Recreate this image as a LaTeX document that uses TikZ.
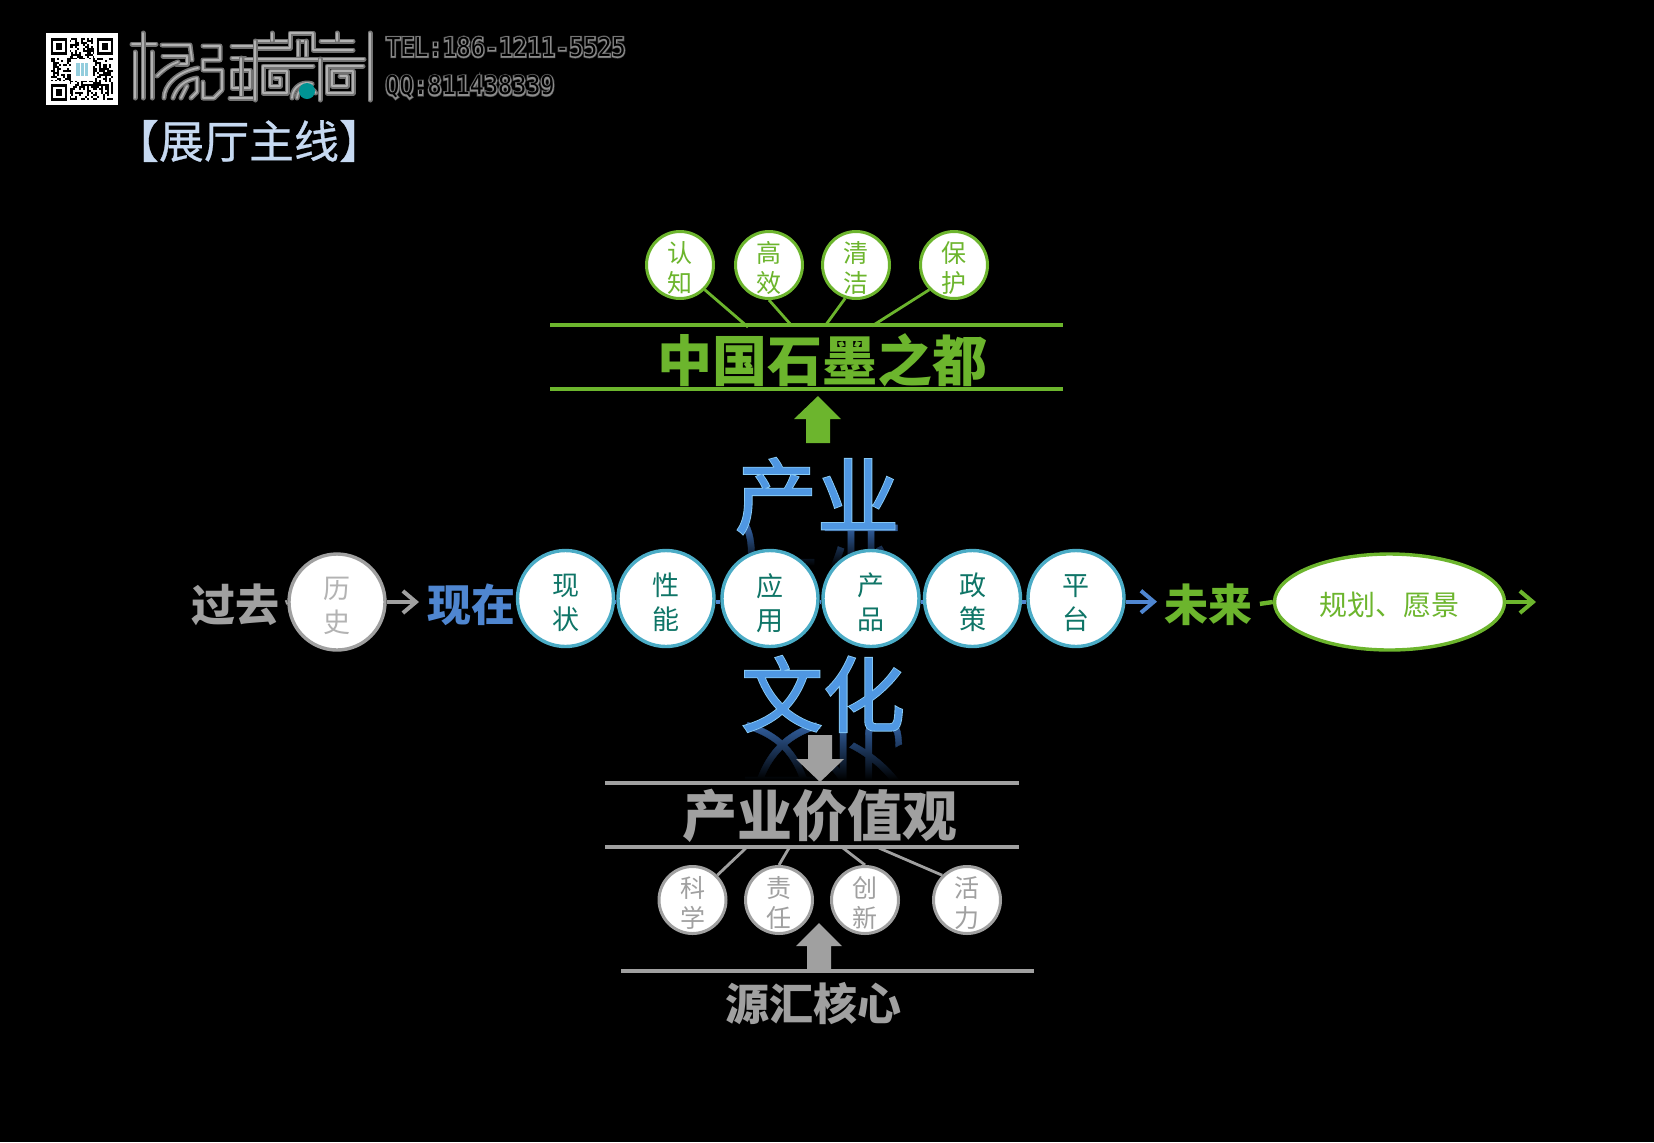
\documentclass[tikz,border=0pt]{standalone}
\usepackage{fontspec}
\setmainfont{Noto Sans CJK SC}
\newfontfamily\bevelcore[FakeBold=0.4]{Noto Sans CJK SC}
\newfontfamily\bevelrim[FakeBold=2.6]{Noto Sans CJK SC}
\newfontfamily\hallfont[FakeBold=0.6]{Noto Sans CJK SC}
\newfontfamily\telcore[FakeStretch=0.9]{DejaVu Sans Mono}
\newfontfamily\telglow[FakeStretch=0.9,FakeBold=8]{DejaVu Sans Mono}
\newfontfamily\telhalo[FakeStretch=0.9,FakeBold=13]{DejaVu Sans Mono}
\usetikzlibrary{arrows.meta,shapes.geometric,fadings}
\newcommand\duo[2]{\vbox{\kern\duokern\hbox{#1}\hbox{#2}}}
\definecolor{leaf}{HTML}{6CB52D}
\definecolor{ash}{HTML}{A0A0A0}
\definecolor{ring}{HTML}{4BACC6}
\definecolor{sky}{HTML}{4F86D0}
\definecolor{deepteal}{HTML}{0F7567}
\definecolor{glint}{HTML}{8ACDF8}
\definecolor{core}{HTML}{4F97E2}
\definecolor{shadowblue}{HTML}{2F5A96}
\definecolor{paleblue}{HTML}{C6D9F1}
\tikzset{
    rawtext/.style={inner sep=0pt,outer sep=0pt},
    wordgreen/.style={rawtext,text=leaf,font=\fontsize{27.5}{30}\selectfont\bfseries},
    wordgrey/.style={rawtext,text=ash,font=\fontsize{27.5}{30}\selectfont\bfseries},
    sidetext/.style={rawtext,font=\fontsize{22}{24}\selectfont\bfseries},
    bigbevel/.style={rawtext,text=core,font=\bevelcore\fontsize{41}{44}\selectfont},
    bigrim/.style={rawtext,text=glint,font=\bevelrim\fontsize{41}{44}\selectfont},
    bigecho/.style={rawtext,text=shadowblue,font=\bevelcore\fontsize{41}{44}\selectfont,yscale=-1,transform shape},
    midnode/.style={circle,draw=ring,fill=white,line width=1.7pt,minimum size=48pt,inner sep=0pt,text=deepteal,font=\fontsize{13.5}{17}\selectfont\def\duokern{4.2pt}},
    oldnode/.style={midnode,draw=ash,text=ash!80},
    greennode/.style={circle,draw=leaf,fill=white,line width=1.5pt,minimum size=33.5pt,inner sep=0pt,text=leaf,font=\fontsize{12.5}{15}\selectfont\def\duokern{2.8pt}},
    greynode/.style={greennode,draw=ash,text=ash},
    hairgreen/.style={draw=leaf,line width=1.4pt},
    hairgrey/.style={draw=ash,line width=1.4pt},
    rulegreen/.style={draw=leaf,line width=1.7pt},
    rulegrey/.style={draw=ash,line width=1.7pt},
    linkarrow/.style={line width=2.2pt,-{Straight Barb[length=6.5pt,width=11pt,line width=2pt]}},
    logostroke/.style={draw=black!55,double=black!30,line width=0.8pt,double distance=0.9pt,line join=round,line cap=round}
}
\begin{document}
\begin{tikzpicture}[x=0.5pt,y=-0.5pt]
        \fill[black] (0,0) rectangle (1654,1142);
        \useasboundingbox (0,0) rectangle (1654,1142);

        \fill[white] (46,33) rectangle (118,105);
        \pgfmathsetseed{11}
        \foreach \col in {0,...,30} {
            \foreach \row in {0,...,30} {
                \pgfmathrandominteger{\qrbit}{0}{1}
                \ifnum\qrbit=1
                    \fill[black] (50.5+\col*2,38+\row*2) rectangle ++(2,2);
                \fi
            }
        }
        \fill[white] (50,37.5) rectangle (70,57.5);
        \fill[white] (93.5,37.5) rectangle (113.5,57.5);
        \fill[white] (50,81) rectangle (70,101);
        \fill[black] (50.5,38) rectangle (67,54.5);
        \fill[white] (53,40.5) rectangle (64.5,52);
        \fill[black] (55.5,43) rectangle (62,49.5);
        \fill[black] (96.5,38) rectangle (113,54.5);
        \fill[white] (99,40.5) rectangle (110.5,52);
        \fill[black] (101.5,43) rectangle (108,49.5);
        \fill[black] (50.5,84) rectangle (67,100.5);
        \fill[white] (53,86.5) rectangle (64.5,98);
        \fill[black] (55.5,89) rectangle (62,95.5);
        \fill[white] (71,59) rectangle (93,81);
        \fill[ring!60] (76,63) rectangle (88,76);
        \draw[white,line width=0.4pt] (80,63) -- (80,76);
        \draw[white,line width=0.4pt] (84,63) -- (84,76);

        \draw[logostroke] (132,44) -- (156,44);
        \draw[logostroke] (143,33) -- (143,98);
        \draw[logostroke] (135,52) -- (135,98);
        \draw[logostroke] (152,52) -- (152,98);
        \draw[logostroke] (162,45) -- (190,45) -- (192,60);
        \draw[logostroke] (163,56) -- (187,56) -- (187,64) -- (176,64);
        \draw[logostroke] (157,76) .. controls (165,68) and (172,64) .. (178,62);
        \draw[logostroke] (164,98) .. controls (164,86) and (176,72) .. (198,68);
        \draw[logostroke] (173,98) .. controls (176,88) and (184,80) .. (197,78) -- (197,92) -- (191,98);
        \draw[logostroke] (181,98) -- (187,86);
        \draw[logostroke] (203,46) -- (220,46) -- (220,60) -- (203,60) -- (203,70) -- (222,70) -- (222,90) -- (214,98) -- (203,98) -- (203,82);
        \draw[logostroke] (232,46) -- (255,46);
        \draw[logostroke] (232,58) -- (245,58);
        \draw[logostroke] (232,70) -- (250,70) -- (250,88) -- (232,88) -- cycle;
        \draw[logostroke] (241,58) -- (241,98);
        \draw[logostroke] (230,98) -- (255,98);
        \draw[logostroke] (258,41) -- (287,41);
        \draw[logostroke] (272,33) -- (272,41);
        \draw[logostroke] (258,48) -- (290,48) -- (290,33) -- (313,33) -- (313,50) -- (353,50);
        \draw[logostroke] (298,41) -- (306,41);
        \draw[logostroke] (298,41) -- (298,56);
        \draw[logostroke] (306,41) -- (306,56);
        \draw[logostroke] (321,41) -- (353,41);
        \draw[logostroke] (337,33) -- (337,41);
        \draw[logostroke] (245,59) -- (364,59);
        \draw[logostroke] (255,41) -- (255,100);
        \draw[logostroke] (320,59) -- (320,100);
        \draw[logostroke] (313,66) -- (263,66) -- (263,93) -- (287,93) -- (287,71) -- (270,71) -- (270,86) -- (280,86) -- (280,78) -- (275,78);
        \draw[logostroke] (363,66) -- (327,66) -- (327,93) -- (353,93) -- (353,71) -- (332,71) -- (332,86) -- (347,86) -- (347,76) -- (340,76);
        \draw[logostroke] (292,98) arc[start angle=180,end angle=70,x radius=15,y radius=-15];
        \draw[logostroke] (297,98) arc[start angle=180,end angle=30,x radius=10,y radius=-10];
        \draw[logostroke] (370,33) -- (370,100);
        \fill[teal!85!cyan] (307,91) circle (8);

        \node[rawtext,text=black!70,font=\telhalo\fontsize{13}{15}\selectfont] (telhalo) at (506,47) {TEL:186-1211-5525};
        \node[rawtext,text=black!45,font=\telglow\fontsize{13}{15}\selectfont] (telglow) at (506,47) {TEL:186-1211-5525};
        \node[rawtext,text=black,font=\telcore\fontsize{13}{15}\selectfont] (telcore) at (506,47) {TEL:186-1211-5525};
        \node[rawtext,text=black!70,font=\telhalo\fontsize{13}{15}\selectfont] (qqhalo) at (470,87) {QQ:811438339};
        \node[rawtext,text=black!45,font=\telglow\fontsize{13}{15}\selectfont] (qqglow) at (470,87) {QQ:811438339};
        \node[rawtext,text=black,font=\telcore\fontsize{13}{15}\selectfont] (qqcore) at (470,87) {QQ:811438339};

        \node[rawtext,text=paleblue,font=\hallfont\fontsize{22.5}{24}\selectfont] (hallline) at (249,141) {【展厅主线】};

        \node[bigecho] (industryecho) at (820,558) {产业};
        \node[bigecho] (cultureecho) at (823,760) {文化};
        \fill[black,path fading=north] (725,530) rectangle (910,566);
        \fill[black] (725,566) rectangle (910,615);
        \fill[black,path fading=north] (725,728) rectangle (910,780);
        \fill[black] (725,780) rectangle (910,812);

        \node[bigrim] (industryrim) at (817,496) {产业};
        \node[bigbevel] (industry) at (817,496) {产业};
        \node[bigrim] (culturerim) at (823,694) {文化};
        \node[bigbevel] (culture) at (823,694) {文化};

        \draw[rulegreen] (550,325) -- (1063,325);
        \draw[rulegreen] (550,389) -- (1063,389);
        \node[wordgreen] (capital) at (822,360) {中国石墨之都};
        \fill[leaf] (818,396) -- (841,419) -- (830,419) -- (830,443) -- (806,443) -- (806,419) -- (794,419) -- cycle;

        \node[greennode] (renzhi) at (680,265) {\duo{认}{知}};
        \node[greennode] (gaoxiao) at (769,265) {\duo{高}{效}};
        \node[greennode] (qingjie) at (856,265) {\duo{清}{洁}};
        \node[greennode] (baohu) at (954,265) {\duo{保}{护}};
        \coordinate (renzhifoot) at (748,327);
        \coordinate (gaoxiaofoot) at (792,326);
        \coordinate (qingjiefoot) at (825,326);
        \coordinate (baohufoot) at (872,326);
        \draw[hairgreen] (renzhi.south east) -- (renzhifoot);
        \draw[hairgreen] (gaoxiao.south) -- (gaoxiaofoot);
        \draw[hairgreen] (qingjie.-108) -- (qingjiefoot);
        \draw[hairgreen] (baohu.south west) -- (baohufoot);

        \node[sidetext,text=ash] (past) at (235,605) {过去};
        \node[oldnode] (lishi) at (337,602) {\duo{历}{史}};
        \node[sidetext,text=sky] (present) at (471,605) {现在};
        \node[midnode] (xianzhuang) at (565.5,598.5) {\duo{现}{状}};
        \node[midnode] (xingneng) at (666,598.5) {\duo{性}{能}};
        \node[midnode] (yingyong) at (770,598.5) {\duo{应}{用}};
        \node[midnode] (chanpin) at (871,598.5) {\duo{产}{品}};
        \node[midnode] (zhengce) at (972.5,598.5) {\duo{政}{策}};
        \node[midnode] (pingtai) at (1076,598.5) {\duo{平}{台}};
        \node[sidetext,text=leaf] (future) at (1208,605) {未来};
        \node[ellipse,draw=leaf,fill=white,line width=1.7pt,minimum width=115pt,minimum height=48pt,inner sep=0pt,text=leaf,font=\fontsize{14}{16}\selectfont,execute at begin node={\rule{0pt}{14.3pt}}] (vision) at (1389.5,602) {规划、愿景};
        \coordinate (visionend) at (1536,602);

        \draw[ash,line width=2.2pt,shorten <=3.5pt] (past.east) -- (lishi.west);
        \draw[ash,linkarrow,shorten >=4pt] (lishi.east) -- (lishi.east -| present.west);
        \draw[sky,line width=2pt] ([yshift=-1.6pt]xianzhuang.east) -- ([yshift=-1.6pt]xingneng.west);
        \draw[sky,line width=2pt] ([yshift=-1.6pt]xingneng.east) -- ([yshift=-1.6pt]yingyong.west);
        \draw[sky,line width=2pt] ([yshift=-1.6pt]yingyong.east) -- ([yshift=-1.6pt]chanpin.west);
        \draw[sky,line width=2pt] ([yshift=-1.6pt]chanpin.east) -- ([yshift=-1.6pt]zhengce.west);
        \draw[sky,line width=2pt] ([yshift=-1.6pt]zhengce.east) -- ([yshift=-1.6pt]pingtai.west);
        \draw[sky,linkarrow,shorten >=3.5pt] ([yshift=-1.6pt]pingtai.east) -- ([yshift=-1.6pt]pingtai.east -| future.west);
        \draw[leaf,line width=2.2pt,shorten <=4pt] (future.east) -- (vision.west);
        \draw[leaf,linkarrow] (vision.east) -- (visionend);

        \fill[ash] (808,735) -- (832,735) -- (832,759) -- (844,759) -- (820,782) -- (796,759) -- (808,759) -- cycle;
        \draw[rulegrey] (605,783) -- (1019,783);
        \draw[rulegrey] (605,847) -- (1019,847);
        \node[wordgrey] (values) at (820,816) {产业价值观};

        \node[greynode] (kexue) at (692.5,900) {\duo{科}{学}};
        \node[greynode] (zeren) at (779,900) {\duo{责}{任}};
        \node[greynode] (chuangxin) at (865,900) {\duo{创}{新}};
        \node[greynode] (huoli) at (967,900) {\duo{活}{力}};
        \coordinate (kexuefoot) at (746,848);
        \coordinate (zerenfoot) at (789,848);
        \coordinate (chuangxinfoot) at (843,848);
        \coordinate (huolifoot) at (879,848);
        \draw[hairgrey] (kexue.north east) -- (kexuefoot);
        \draw[hairgrey] (zeren.north) -- (zerenfoot);
        \draw[hairgrey] (chuangxin.north) -- (chuangxinfoot);
        \draw[hairgrey] (huoli.north west) -- (huolifoot);

        \fill[ash] (819,923) -- (842,946) -- (831,946) -- (831,971) -- (807,971) -- (807,946) -- (796,946) -- cycle;
        \draw[rulegrey] (621,971) -- (1034,971);
        \node[rawtext,text=ash,font=\fontsize{22}{25}\selectfont\bfseries] (source) at (813,1004) {源汇核心};
    \end{tikzpicture}
\end{document}
